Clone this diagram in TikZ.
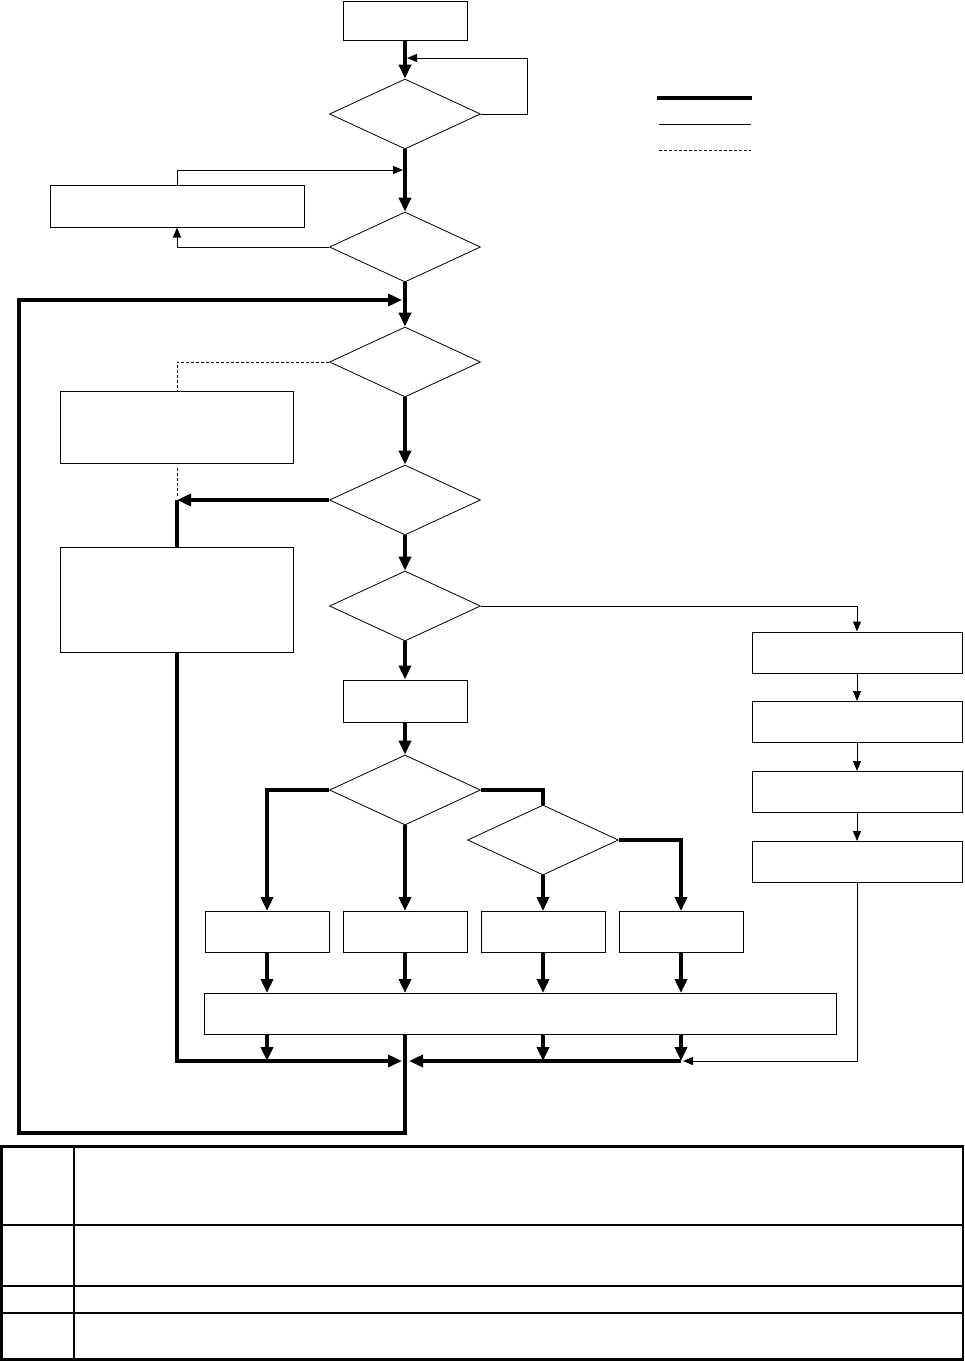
\documentclass[tikz,border=0pt]{standalone}
\usetikzlibrary{shapes.geometric,arrows.meta}
\begin{document}
\begin{tikzpicture}[x=1pt,y=-1pt,
    main/.style = {draw, rectangle, line width=1pt, inner sep=0pt},
    dec/.style = {draw, diamond, line width=0.8pt, inner sep=0pt, minimum width=151pt, minimum height=70pt},
    flow/.style = {line width=3.5pt},
    side/.style = {line width=1pt},
    opt/.style = {line width=0.8pt, dash pattern=on 3pt off 2pt},
    tip/.style = {-{Triangle[length=14pt,width=12pt]}},
    stip/.style = {-{Triangle[length=10pt,width=8pt]}}]
  \useasboundingbox (0,0) rectangle (965,1361);

  \node[main, minimum width=124pt, minimum height=39pt](1) at (405,20.5){};
  \node[dec](2) at (405,114){};
  \node[main, minimum width=254pt, minimum height=42pt](3) at (177,206){};
  \node[dec](4) at (405,247){};
  \node[dec](5) at (405,362){};
  \node[main, minimum width=233pt, minimum height=72pt](6) at (177,427.5){};
  \node[dec](7) at (405,500){};
  \node[main, minimum width=233pt, minimum height=105pt](8) at (177,599.5){};
  \node[dec](9) at (405,606){};
  \node[main, minimum width=124pt, minimum height=42pt](10) at (405,701){};
  \node[dec](11) at (405,790){};
  \node[dec](12) at (543,840){};
  \node[main, minimum width=124pt, minimum height=41pt](13) at (267,932){};
  \node[main, minimum width=124pt, minimum height=41pt](14) at (405,932){};
  \node[main, minimum width=124pt, minimum height=41pt](15) at (543,932){};
  \node[main, minimum width=124pt, minimum height=41pt](16) at (681,932){};
  \node[main, minimum width=632pt, minimum height=41pt](17) at (520.5,1014){};
  \node[main, minimum width=210pt, minimum height=41pt](18) at (857,652.5){};
  \node[main, minimum width=210pt, minimum height=41pt](19) at (857,722){};
  \node[main, minimum width=210pt, minimum height=41pt](20) at (857,792){};
  \node[main, minimum width=210pt, minimum height=41pt](21) at (857,862){};

  \coordinate (c1) at (407,58);
  \coordinate (c2) at (403,170);
  \coordinate (c3) at (402,300);
  \coordinate (c4) at (177,497);
  \coordinate (c5) at (402,1061);
  \coordinate (c6) at (409,1061);
  \coordinate (c7) at (683,1061);

  % main line
  \draw[flow,tip] (1) -- (2); \draw[flow,tip] (2) -- (4); \draw[flow,tip] (4) -- (5);
  \draw[flow,tip] (5) -- (7); \draw[flow,tip] (7) -- (9); \draw[flow,tip] (9) -- (10);
  \draw[flow,tip] (10) -- (11);
  \draw[side,stip] (2.east) -- ++(47,0) |- (c1);
  \draw[side,stip] (3.north) |- (c2);
  \draw[side,stip] (4.west) -| (3.south);
  \draw[flow,tip] (17.south -| 5) |- (19,1133) |- (c3);

  % left side
  \draw[opt] (5.west) -| (6.north); \draw[opt] ([yshift=-4pt]6.south) -- (c4);
  \draw[flow,tip] (7.west) -- (7.west -| 8.north); \draw[flow] (8.north) -- (7.west -| 8.north);
  \draw[flow,tip] (8.south) |- (c5);

  % right side
  \draw[side,stip] (9.east) -| (18.north);
  \draw[side,stip] (18) -- (19); \draw[side,stip] (19) -- (20); \draw[side,stip] (20) -- (21);
  \draw[side,stip] (21.south) |- (c7);

  % branches
  \draw[flow,tip] (11.west) -| (13.north); \draw[flow,tip] (11) -- (14);
  \draw[flow] (11.east) -| (12.north); \draw[flow,tip] (12) -- (15);
  \draw[flow,tip] (12.east) -| (16.north);
  \foreach \n in {13,14,15,16} \draw[flow,tip] (\n.south) -- (\n |- 17.north);
  \foreach \n in {13,15,16} \draw[flow,tip] (17.south -| \n) -- (\n |- c5);
  \draw[flow,tip] (16 |- c5) -- (c6);

  % legend
  \draw[line width=4pt] (657,98) -- (752,98);
  \draw[side] (659,124.5) -- (751,124.5);
  \draw[opt] (659,150.5) -- (751,150.5);

  % table
  \draw[line width=2.5pt] (1.5,1146.5) rectangle (963,1359.5);
  \draw[line width=1.2pt] (74,1146.5) -- (74,1359.5);
  \foreach \r in {1225,1286,1313} \draw[line width=1.2pt] (1.5,\r) -- (963,\r);
\end{tikzpicture}
\end{document}
